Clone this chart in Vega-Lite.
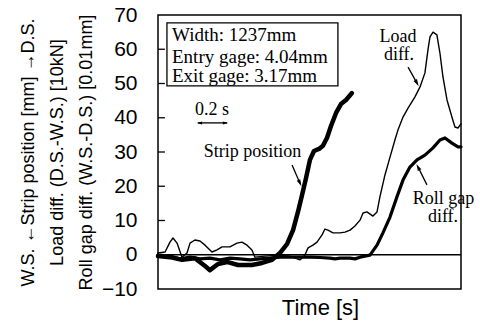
{
  "$schema": "https://vega.github.io/schema/vega-lite/v6.json",
  "width": 303,
  "height": 274,
  "autosize": {"type": "none"},
  "padding": {"left": 158, "top": 15, "right": 19, "bottom": 35},
  "config": {
    "view": {"stroke": "black", "strokeWidth": 1.5},
    "font": "Liberation Sans"
  },
  "datasets": {
    "lines": [
      {"series": "Strip position", "t": 0, "v": -0.4},
      {"series": "Strip position", "t": 0.083, "v": -0.7},
      {"series": "Strip position", "t": 0.166, "v": -1.5},
      {"series": "Strip position", "t": 0.256, "v": -1.0},
      {"series": "Strip position", "t": 0.326, "v": -3.3},
      {"series": "Strip position", "t": 0.36, "v": -4.5},
      {"series": "Strip position", "t": 0.416, "v": -2.7},
      {"series": "Strip position", "t": 0.478, "v": -2.1},
      {"series": "Strip position", "t": 0.554, "v": -3.0},
      {"series": "Strip position", "t": 0.651, "v": -3.0},
      {"series": "Strip position", "t": 0.721, "v": -2.4},
      {"series": "Strip position", "t": 0.79, "v": -1.5},
      {"series": "Strip position", "t": 0.845, "v": 0.5},
      {"series": "Strip position", "t": 0.894, "v": 3.1},
      {"series": "Strip position", "t": 0.936, "v": 7.2},
      {"series": "Strip position", "t": 0.97, "v": 12.5},
      {"series": "Strip position", "t": 0.998, "v": 17.4},
      {"series": "Strip position", "t": 1.026, "v": 22.4},
      {"series": "Strip position", "t": 1.053, "v": 27.7},
      {"series": "Strip position", "t": 1.081, "v": 30.3},
      {"series": "Strip position", "t": 1.116, "v": 30.9},
      {"series": "Strip position", "t": 1.143, "v": 31.8},
      {"series": "Strip position", "t": 1.171, "v": 34.1},
      {"series": "Strip position", "t": 1.199, "v": 37.6},
      {"series": "Strip position", "t": 1.234, "v": 41.4},
      {"series": "Strip position", "t": 1.268, "v": 44.0},
      {"series": "Strip position", "t": 1.303, "v": 45.2},
      {"series": "Strip position", "t": 1.344, "v": 47.2},
      {"series": "Load diff.", "t": 0, "v": 0.5},
      {"series": "Load diff.", "t": 0.049, "v": 0.8},
      {"series": "Load diff.", "t": 0.083, "v": 3.7},
      {"series": "Load diff.", "t": 0.104, "v": 4.9},
      {"series": "Load diff.", "t": 0.132, "v": 3.4},
      {"series": "Load diff.", "t": 0.166, "v": -0.7},
      {"series": "Load diff.", "t": 0.201, "v": 0.5},
      {"series": "Load diff.", "t": 0.222, "v": 3.4},
      {"series": "Load diff.", "t": 0.256, "v": 4.3},
      {"series": "Load diff.", "t": 0.291, "v": 4.0},
      {"series": "Load diff.", "t": 0.326, "v": 2.8},
      {"series": "Load diff.", "t": 0.374, "v": 0.8},
      {"series": "Load diff.", "t": 0.409, "v": 1.4},
      {"series": "Load diff.", "t": 0.444, "v": 2.3},
      {"series": "Load diff.", "t": 0.499, "v": 2.3},
      {"series": "Load diff.", "t": 0.547, "v": 3.4},
      {"series": "Load diff.", "t": 0.582, "v": 3.7},
      {"series": "Load diff.", "t": 0.617, "v": 2.8},
      {"series": "Load diff.", "t": 0.651, "v": 1.4},
      {"series": "Load diff.", "t": 0.672, "v": -0.7},
      {"series": "Load diff.", "t": 0.742, "v": -0.4},
      {"series": "Load diff.", "t": 0.845, "v": -0.1},
      {"series": "Load diff.", "t": 0.915, "v": -0.4},
      {"series": "Load diff.", "t": 0.984, "v": -1.5},
      {"series": "Load diff.", "t": 1.019, "v": 0},
      {"series": "Load diff.", "t": 1.04, "v": 2.0},
      {"series": "Load diff.", "t": 1.074, "v": 2.8},
      {"series": "Load diff.", "t": 1.102, "v": 3.7},
      {"series": "Load diff.", "t": 1.137, "v": 5.8},
      {"series": "Load diff.", "t": 1.157, "v": 7.5},
      {"series": "Load diff.", "t": 1.178, "v": 7.2},
      {"series": "Load diff.", "t": 1.213, "v": 6.4},
      {"series": "Load diff.", "t": 1.261, "v": 6.4},
      {"series": "Load diff.", "t": 1.296, "v": 6.6},
      {"series": "Load diff.", "t": 1.331, "v": 7.2},
      {"series": "Load diff.", "t": 1.365, "v": 8.4},
      {"series": "Load diff.", "t": 1.4, "v": 10.1},
      {"series": "Load diff.", "t": 1.421, "v": 12.2},
      {"series": "Load diff.", "t": 1.448, "v": 12.5},
      {"series": "Load diff.", "t": 1.49, "v": 11.3},
      {"series": "Load diff.", "t": 1.518, "v": 12.5},
      {"series": "Load diff.", "t": 1.538, "v": 16.9},
      {"series": "Load diff.", "t": 1.573, "v": 23.3},
      {"series": "Load diff.", "t": 1.608, "v": 28.5},
      {"series": "Load diff.", "t": 1.642, "v": 33.5},
      {"series": "Load diff.", "t": 1.663, "v": 36.4},
      {"series": "Load diff.", "t": 1.698, "v": 40.2},
      {"series": "Load diff.", "t": 1.733, "v": 42.8},
      {"series": "Load diff.", "t": 1.781, "v": 46.1},
      {"series": "Load diff.", "t": 1.816, "v": 49.0},
      {"series": "Load diff.", "t": 1.85, "v": 53.1},
      {"series": "Load diff.", "t": 1.871, "v": 59.8},
      {"series": "Load diff.", "t": 1.885, "v": 63.6},
      {"series": "Load diff.", "t": 1.906, "v": 65.0},
      {"series": "Load diff.", "t": 1.933, "v": 64.2},
      {"series": "Load diff.", "t": 1.954, "v": 58.9},
      {"series": "Load diff.", "t": 1.975, "v": 51.9},
      {"series": "Load diff.", "t": 2.003, "v": 45.2},
      {"series": "Load diff.", "t": 2.037, "v": 40.2},
      {"series": "Load diff.", "t": 2.058, "v": 37.3},
      {"series": "Load diff.", "t": 2.079, "v": 37.0},
      {"series": "Load diff.", "t": 2.1, "v": 38.2},
      {"series": "Roll gap diff.", "t": 0, "v": -0.1},
      {"series": "Roll gap diff.", "t": 0.083, "v": -0.4},
      {"series": "Roll gap diff.", "t": 0.152, "v": -1.2},
      {"series": "Roll gap diff.", "t": 0.222, "v": -0.7},
      {"series": "Roll gap diff.", "t": 0.291, "v": -1.2},
      {"series": "Roll gap diff.", "t": 0.36, "v": -1.0},
      {"series": "Roll gap diff.", "t": 0.43, "v": -1.5},
      {"series": "Roll gap diff.", "t": 0.499, "v": -1.0},
      {"series": "Roll gap diff.", "t": 0.568, "v": -1.2},
      {"series": "Roll gap diff.", "t": 0.638, "v": -1.5},
      {"series": "Roll gap diff.", "t": 0.707, "v": -1.2},
      {"series": "Roll gap diff.", "t": 0.776, "v": -1.0},
      {"series": "Roll gap diff.", "t": 0.845, "v": -0.7},
      {"series": "Roll gap diff.", "t": 0.915, "v": -0.7},
      {"series": "Roll gap diff.", "t": 0.984, "v": -0.7},
      {"series": "Roll gap diff.", "t": 1.053, "v": -0.7},
      {"series": "Roll gap diff.", "t": 1.123, "v": -0.8},
      {"series": "Roll gap diff.", "t": 1.192, "v": -1.0},
      {"series": "Roll gap diff.", "t": 1.227, "v": -1.2},
      {"series": "Roll gap diff.", "t": 1.261, "v": -1.0},
      {"series": "Roll gap diff.", "t": 1.331, "v": -1.0},
      {"series": "Roll gap diff.", "t": 1.365, "v": -1.2},
      {"series": "Roll gap diff.", "t": 1.4, "v": -0.7},
      {"series": "Roll gap diff.", "t": 1.469, "v": -0.1},
      {"series": "Roll gap diff.", "t": 1.518, "v": 2.8},
      {"series": "Roll gap diff.", "t": 1.559, "v": 6.4},
      {"series": "Roll gap diff.", "t": 1.608, "v": 11.0},
      {"series": "Roll gap diff.", "t": 1.656, "v": 16.9},
      {"series": "Roll gap diff.", "t": 1.698, "v": 21.8},
      {"series": "Roll gap diff.", "t": 1.746, "v": 25.6},
      {"series": "Roll gap diff.", "t": 1.795, "v": 27.7},
      {"series": "Roll gap diff.", "t": 1.85, "v": 29.1},
      {"series": "Roll gap diff.", "t": 1.906, "v": 31.2},
      {"series": "Roll gap diff.", "t": 1.954, "v": 33.5},
      {"series": "Roll gap diff.", "t": 1.989, "v": 34.1},
      {"series": "Roll gap diff.", "t": 2.037, "v": 32.6},
      {"series": "Roll gap diff.", "t": 2.079, "v": 31.5},
      {"series": "Roll gap diff.", "t": 2.1, "v": 31.5}
    ],
    "boxText": [
      {"t": 0.097, "v": 62.5, "label": "Width: 1237mm"},
      {"t": 0.097, "v": 56.1, "label": "Entry gage: 4.04mm"},
      {"t": 0.097, "v": 50.5, "label": "Exit gage: 3.17mm"}
    ],
    "labels": [
      {"t": 0.374, "v": 40.8, "label": "0.2 s"},
      {"t": 0.655, "v": 28.6, "label": "Strip position"},
      {"t": 1.663, "v": 62.1, "label": "Load"},
      {"t": 1.67, "v": 56.9, "label": "diff."},
      {"t": 1.979, "v": 14.8, "label": "Roll gap"},
      {"t": 1.975, "v": 9.6, "label": "diff."}
    ],
    "arrows": [
      {"t": 0.929, "v": 26.2, "t2": 0.984, "v2": 20.9, "angle": 155},
      {"t": 1.733, "v": 54.8, "t2": 1.795, "v2": 50.1, "angle": 151},
      {"t": 1.864, "v": 20.4, "t2": 1.802, "v2": 25.6, "angle": 333}
    ],
    "scaleBar": [
      {"t": 0.277, "v": 38.5, "t2": 0.478, "v2": 38.5}
    ],
    "scaleHeads": [
      {"t": 0.287, "v": 38.5, "angle": 270},
      {"t": 0.468, "v": 38.5, "angle": 90}
    ],
    "ticks": [
      {"t": 0, "t2": 0.048, "v": 0},
      {"t": 0, "t2": 0.048, "v": 10},
      {"t": 0, "t2": 0.048, "v": 20},
      {"t": 0, "t2": 0.048, "v": 30},
      {"t": 0, "t2": 0.048, "v": 40},
      {"t": 0, "t2": 0.048, "v": 50},
      {"t": 0, "t2": 0.048, "v": 60}
    ]
  },
  "layer": [
    {
      "data": {"name": "lines"},
      "mark": {"type": "line", "color": "black", "strokeJoin": "round", "strokeCap": "round"},
      "encoding": {
        "x": {"field": "t", "type": "quantitative", "scale": {"domain": [0, 2.1], "nice": false},
          "axis": {"title": "Time [s]", "labels": false, "ticks": false, "domain": false, "grid": false,
            "titleFontSize": 22, "titleFontWeight": "normal", "titleColor": "black", "titlePadding": 8, "titleX": 162}},
        "y": {"field": "v", "type": "quantitative", "scale": {"domain": [-10, 70], "nice": false},
          "axis": {
            "values": [-10, 0, 10, 20, 30, 40, 50, 60, 70],
            "tickCount": 12,
            "labelOverlap": false,
            "title": ["W.S. ←Strip position [mm] →D.S.", "Load diff. (D.S.-W.S.) [10kN]", "Roll gap diff. (W.S.-D.S.) [0.01mm]"],
            "titleFontSize": 18, "titleFontWeight": "normal", "titleColor": "black", "titleLineHeight": 29, "titlePadding": 6,
            "labelFontSize": 21, "labelColor": "black", "labelPadding": 21,
            "ticks": false,
            "domain": false, "grid": false
          }},
        "detail": {"field": "series"},
        "strokeWidth": {"field": "series", "type": "nominal",
          "scale": {"type": "ordinal", "domain": ["Strip position", "Load diff.", "Roll gap diff."], "range": [4.5, 1.4, 3.2]},
          "legend": null}
      }
    },
    {
      "data": {"values": [{"v": 0}]},
      "mark": {"type": "rule", "color": "black", "strokeWidth": 1.3},
      "encoding": {"y": {"field": "v", "type": "quantitative"}}
    },
    {
      "data": {"name": "ticks"},
      "mark": {"type": "rule", "color": "black", "strokeWidth": 1.3},
      "encoding": {
        "x": {"field": "t", "type": "quantitative"},
        "x2": {"field": "t2"},
        "y": {"field": "v", "type": "quantitative"}
      }
    },
    {
      "data": {"values": [{"t": 0.062, "t2": 1.247, "v": 67.7, "v2": 49.3}]},
      "mark": {"type": "rect", "fill": "white", "stroke": "black", "strokeWidth": 1.3},
      "encoding": {
        "x": {"field": "t", "type": "quantitative"},
        "x2": {"field": "t2"},
        "y": {"field": "v", "type": "quantitative"},
        "y2": {"field": "v2"}
      }
    },
    {
      "data": {"name": "boxText"},
      "mark": {"type": "text", "font": "Liberation Serif", "fontSize": 19, "align": "left", "baseline": "alphabetic", "color": "black"},
      "encoding": {
        "x": {"field": "t", "type": "quantitative"},
        "y": {"field": "v", "type": "quantitative"},
        "text": {"field": "label"}
      }
    },
    {
      "data": {"name": "labels"},
      "mark": {"type": "text", "font": "Liberation Serif", "fontSize": 18, "align": "center", "baseline": "alphabetic", "color": "black"},
      "encoding": {
        "x": {"field": "t", "type": "quantitative"},
        "y": {"field": "v", "type": "quantitative"},
        "text": {"field": "label"}
      }
    },
    {
      "data": {"name": "arrows"},
      "mark": {"type": "rule", "color": "black", "strokeWidth": 1.3},
      "encoding": {
        "x": {"field": "t", "type": "quantitative"},
        "y": {"field": "v", "type": "quantitative"},
        "x2": {"field": "t2"},
        "y2": {"field": "v2"}
      }
    },
    {
      "data": {"name": "arrows"},
      "mark": {"type": "point", "shape": "M0,-1L-0.55,1L0.55,1Z", "filled": true, "color": "black", "opacity": 1, "size": 50},
      "encoding": {
        "x": {"field": "t2", "type": "quantitative"},
        "y": {"field": "v2", "type": "quantitative"},
        "angle": {"field": "angle", "type": "quantitative", "scale": null}
      }
    },
    {
      "data": {"name": "scaleBar"},
      "mark": {"type": "rule", "color": "black", "strokeWidth": 1.3},
      "encoding": {
        "x": {"field": "t", "type": "quantitative"},
        "y": {"field": "v", "type": "quantitative"},
        "x2": {"field": "t2"},
        "y2": {"field": "v2"}
      }
    },
    {
      "data": {"name": "scaleHeads"},
      "mark": {"type": "point", "shape": "M0,-1L-0.55,1L0.55,1Z", "filled": true, "color": "black", "opacity": 1, "size": 30},
      "encoding": {
        "x": {"field": "t", "type": "quantitative"},
        "y": {"field": "v", "type": "quantitative"},
        "angle": {"field": "angle", "type": "quantitative", "scale": null}
      }
    }
  ]
}
